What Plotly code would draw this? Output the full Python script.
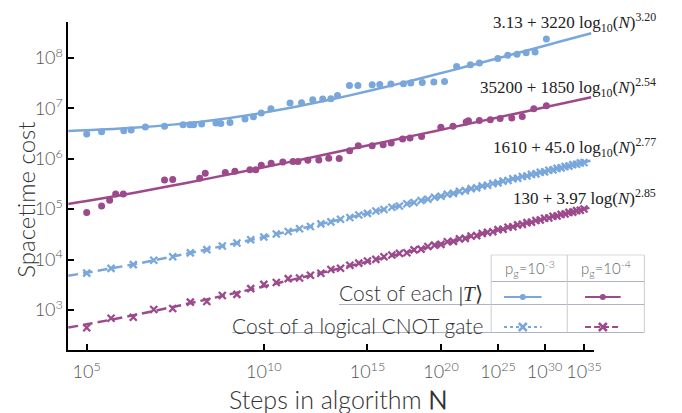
import plotly.graph_objects as go

# ---------------- data (x values are log10(N)) ----------------
t_pg3_logN = [5.00, 5.30, 5.78, 5.95, 6.29, 6.78, 7.29, 7.49, 7.60, 7.84, 8.29, 8.45, 8.76, 9.29,
              9.60, 9.90, 10.28, 11.08, 11.59, 12.11, 12.59, 13.00, 13.34, 13.98, 14.45, 15.28,
              15.74, 16.44, 17.27, 17.77, 18.59, 19.45, 20.28, 21.26, 22.44, 23.24, 24.98, 25.97,
              26.93, 27.91, 28.90, 30.21]
t_pg3_cost = [3.10e6, 3.45e6, 3.61e6, 3.73e6, 4.28e6, 4.40e6, 4.75e6, 4.75e6, 4.75e6, 4.90e6,
              5.13e6, 5.04e6, 5.27e6, 6.16e6, 6.84e6, 8.10e6, 9.87e6, 1.28e7, 1.29e7, 1.49e7,
              1.54e7, 1.55e7, 1.81e7, 2.86e7, 2.86e7, 2.95e7, 2.97e7, 3.05e7, 3.08e7, 3.19e7,
              3.26e7, 3.34e7, 3.43e7, 6.81e7, 7.36e7, 7.96e7, 9.82e7, 1.13e8, 1.18e8, 1.27e8,
              1.32e8, 2.38e8]

t_pg4_logN = [5.00, 5.30, 5.47, 5.60, 5.77, 6.78, 7.00, 7.78, 7.95, 8.60, 8.93, 9.47, 9.69, 9.90,
              10.29, 10.77, 11.21, 11.43, 11.88, 12.40, 12.89, 13.43, 13.99, 14.47, 15.28, 15.95,
              16.46, 17.21, 17.72, 18.54, 19.99, 20.96, 22.07, 22.27, 23.24, 24.26, 25.21, 26.38,
              27.49, 28.76, 30.21]
t_pg4_cost = [8.64e4, 1.16e5, 1.50e5, 2.00e5, 2.00e5, 3.80e5, 3.90e5, 4.12e5, 5.18e5, 5.37e5,
              5.68e5, 6.08e5, 6.03e5, 7.40e5, 8.18e5, 8.68e5, 8.84e5, 8.86e5, 9.30e5, 9.47e5,
              1.02e6, 1.01e6, 1.45e6, 1.82e6, 1.82e6, 1.90e6, 2.06e6, 2.47e6, 2.59e6, 2.78e6,
              4.20e6, 4.40e6, 5.37e6, 5.70e6, 5.78e6, 5.97e6, 6.33e6, 6.45e6, 6.94e6, 9.87e6,
              1.13e7]

cnot_logN = [5.0, 5.5, 6.0, 6.5, 7.0, 7.5, 8.0, 8.5, 9.0, 9.5, 10.0, 10.5, 11.0, 11.5, 12.0,
             12.5, 13.0, 13.5, 14.0, 14.5, 15.0, 15.5, 16.0, 16.5, 17.0, 17.5, 18.0, 18.5, 19.0,
             19.5, 20.0, 20.5, 21.0, 21.5, 22.0, 22.5, 23.0, 23.5, 24.0, 24.5, 25.0, 25.5, 26.0,
             26.5, 27.0, 27.5, 28.0, 28.5, 29.0, 29.5, 30.0, 30.5, 31.0, 31.5, 32.0, 32.5, 33.0,
             33.5, 34.0, 34.5, 35.0]
cnot_pg3_cost = [5400, 6700, 7950, 9700, 11400, 13600, 15800, 18600, 21300, 24700, 28000, 32100,
                 36000, 40900, 45300, 51200, 56000, 63000, 68500, 76500, 82500, 91800, 98300,
                 109000, 116000, 128000, 135500, 149000, 157000, 172000, 180500, 198000, 206000,
                 225000, 234000, 256000, 265000, 288000, 298000, 323000, 333000, 361000, 371000,
                 401000, 412000, 444000, 455000, 490000, 502000, 539000, 551000, 591000, 603000,
                 646000, 659000, 704000, 717000, 766000, 779000, 831000, 844000]
cnot_pg4_cost = [443, 687, 716, 1022, 1070, 1432, 1476, 1942, 2042, 2648, 3222, 3518, 4185, 4320,
                 4900, 5350, 6350, 6750, 7700, 8500, 9400, 10100, 11400, 12300, 13300, 13700,
                 15600, 16100, 18200, 19400, 20000, 22600, 23000, 25700, 26300, 29300, 29800,
                 33000, 34600, 35700, 39400, 40100, 43900, 44800, 48900, 50000, 54200, 55000,
                 59800, 61000, 65900, 67000, 72300, 73200, 79000, 80200, 86200, 87400, 93800,
                 95000, 101000]

# fitted curves
fit_logN = [4.65, 5, 6, 7, 8, 10, 11.5, 13, 15, 17, 19.5, 22, 25, 28, 32, 36]
fit_t_pg3 = [3.570e6, 3.686e6, 4.126e6, 4.760e6, 5.629e6, 8.234e6, 1.111e7, 1.495e7, 2.182e7,
             3.102e7, 4.638e7, 6.676e7, 9.893e7, 1.408e8, 2.142e8, 3.106e8]
fit_t_pg4 = [1.270e5, 1.455e5, 2.104e5, 2.944e5, 3.991e5, 6.766e5, 9.498e5, 1.284e6, 1.832e6,
             2.503e6, 3.533e6, 4.788e6, 6.615e6, 8.808e6, 1.234e7, 1.664e7]
fit_cnot_pg3 = [4787, 5495, 8047, 11475, 15895, 28110, 40630, 56420, 83080, 116800, 170100,
                236900, 337000, 460600, 666200, 921900]
fit_cnot_pg4 = [447, 520, 785, 1147, 1618, 2940, 4316, 6065, 9056, 12880, 18990, 26720, 38410,
                53010, 77480, 108200]

fit_labels = ["3.13 + 3220 log<sub>10</sub>(<i>N</i>)<sup>3.20</sup>",
              "35200 + 1850 log<sub>10</sub>(<i>N</i>)<sup>2.54</sup>",
              "1610 + 45.0 log<sub>10</sub>(<i>N</i>)<sup>2.77</sup>",
              "130 + 3.97 log(<i>N</i>)<sup>2.85</sup>"]

x_tick_exps = [5, 10, 15, 20, 25, 30, 35]
y_tick_exps = [3, 4, 5, 6, 7, 8]

# ---------------- styling ----------------
BLUE = "#79A7DB"
PURPLE = "#9C4A8C"
W, H = 682, 413
PX_L, PX_R, PX_T, PX_B = 69, 601, 22, 350
SANS = "Lato Light, Lato, sans-serif"
SERIF = "Liberation Serif"

fig = go.Figure()

# fit lines
fig.add_trace(go.Scatter(x=fit_logN, y=fit_t_pg3, mode="lines", line=dict(color=BLUE, width=2.5, shape="spline")))
fig.add_trace(go.Scatter(x=fit_logN, y=fit_t_pg4, mode="lines", line=dict(color=PURPLE, width=2.5, shape="spline")))
fig.add_trace(go.Scatter(x=fit_logN, y=fit_cnot_pg3, mode="lines",
                         line=dict(color=BLUE, width=2.5, shape="spline", dash="10px,5px")))
fig.add_trace(go.Scatter(x=fit_logN, y=fit_cnot_pg4, mode="lines",
                         line=dict(color=PURPLE, width=2.5, shape="spline", dash="10px,5px")))

# data points
fig.add_trace(go.Scatter(x=t_pg3_logN, y=t_pg3_cost, mode="markers",
                         marker=dict(color=BLUE, size=7)))
fig.add_trace(go.Scatter(x=t_pg4_logN, y=t_pg4_cost, mode="markers",
                         marker=dict(color=PURPLE, size=7)))
fig.add_trace(go.Scatter(x=cnot_logN, y=cnot_pg3_cost, mode="markers",
                         marker=dict(symbol="x-thin", size=7, line=dict(color=BLUE, width=2.3))))
fig.add_trace(go.Scatter(x=cnot_logN, y=cnot_pg4_cost, mode="markers",
                         marker=dict(symbol="x-thin", size=7, line=dict(color=PURPLE, width=2.3))))

# ---------------- legend table (pixel overlay axes) ----------------
def seg(x0, x1, y0, y1, color="#AEB3C4", width=1):
    fig.add_shape(type="line", xref="x2", yref="y2", x0=x0, x1=x1, y0=y0, y1=y1,
                  line=dict(color=color, width=width))

seg(497, 652, 255, 255, color="#D6D9E0")
seg(497, 652, 281.5, 281.5)
seg(343, 652, 304.5, 304.5)
seg(235, 652, 332.5, 332.5)
for vx in (497, 574, 652):
    seg(vx, vx, 255, 332.5, color="#C9CCD6")

leg = [(510, 548, 297, BLUE, "solid", "circle"),
       (592, 628, 297, PURPLE, "solid", "circle"),
       (510, 548, 327, BLUE, "3px,3px", "x-thin"),
       (592, 628, 327, PURPLE, "6px,3px", "x-thin")]
for x0, x1, yy, col, dash, sym in leg:
    fig.add_trace(go.Scatter(x=[x0, x1], y=[yy, yy], xaxis="x2", yaxis="y2", mode="lines",
                             line=dict(color=col, width=2, dash=dash), cliponaxis=False))
    xm = (x0 + x1) / 2
    if sym == "circle":
        mk = dict(symbol="circle", size=6, color=col)
    else:
        mk = dict(symbol="x-thin", size=8, line=dict(color=col, width=2.5))
    fig.add_trace(go.Scatter(x=[xm], y=[yy], xaxis="x2", yaxis="y2", mode="markers",
                             marker=mk, cliponaxis=False))

ann = []
def txt(x, y, s, size, color="#333", xanchor="center", family=SANS, angle=0):
    ann.append(dict(x=x, y=y, xref="x2", yref="y2", text=s, showarrow=False,
                    xanchor=xanchor, yanchor="middle", textangle=angle,
                    font=dict(family=family, size=size, color=color, weight=300)))

txt(536, 268, "p<sub>g</sub>=10<sup>-3</sup>", 15, color="#666")
txt(613, 268, "p<sub>g</sub>=10<sup>-4</sup>", 15, color="#666")
txt(491, 293, "Cost of each <span style='font-family:Liberation Serif'>|<i>T</i>⟩</span>", 21, xanchor="right")
txt(491, 325, "Cost of a logical CNOT gate", 21, xanchor="right")

# fit labels
for s, yy in zip(fit_labels, [22, 87, 147, 197]):
    ann.append(dict(x=666, y=yy, xref="x2", yref="y2", text=s, showarrow=False,
                    xanchor="right", yanchor="middle",
                    font=dict(family=SERIF, size=17, color="#222")))

# axis titles
txt(25, 200, "Spacetime cost", 24, angle=-90)
txt(342, 399, "Steps in algorithm <b>N</b>", 25)

axis_font = dict(family=SANS, size=18, color="#555", weight=300)

fig.update_layout(
    width=W, height=H, margin=dict(l=0, r=0, t=0, b=0),
    paper_bgcolor="white", plot_bgcolor="rgba(0,0,0,0)",
    showlegend=False, annotations=ann,
    xaxis=dict(type="log", domain=[PX_L / W, PX_R / W],
               range=[0.6675, 1.561],
               tickvals=x_tick_exps,
               ticktext=[f"10<sup>{e}</sup>" for e in x_tick_exps],
               ticks="inside", ticklen=6, tickwidth=1.5, tickcolor="black",
               showline=True, linecolor="black", linewidth=1.5,
               showgrid=False, zeroline=False, tickfont=axis_font,
               ticklabelstandoff=5, anchor="y"),
    yaxis=dict(type="log", domain=[(H - PX_B) / H, (H - PX_T) / H],
               range=[2.206, 8.714],
               tickvals=[10 ** e for e in y_tick_exps],
               ticktext=[f"10<sup>{e}</sup>" for e in y_tick_exps],
               ticks="inside", ticklen=6, tickwidth=1.5, tickcolor="black",
               showline=True, linecolor="black", linewidth=1.5,
               showgrid=False, zeroline=False, tickfont=axis_font, anchor="x"),
    xaxis2=dict(domain=[0, 1], range=[0, W], visible=False, anchor="y2", fixedrange=True),
    yaxis2=dict(domain=[0, 1], range=[H, 0], visible=False, anchor="x2", fixedrange=True),
)

fig.write_html("out.html")
